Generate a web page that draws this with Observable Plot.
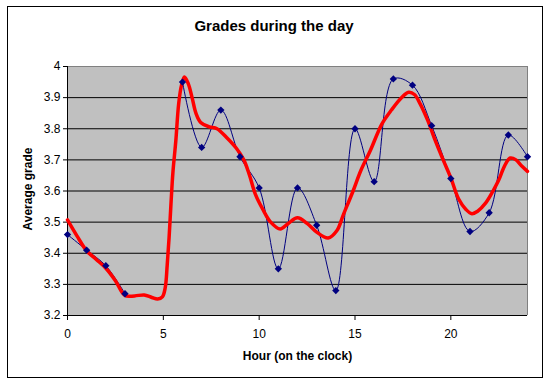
<!DOCTYPE html>
<html><head><meta charset="utf-8">
<script src="https://cdn.jsdelivr.net/npm/d3@7"></script>
<script src="https://cdn.jsdelivr.net/npm/@observablehq/plot@0.6"></script>
<style>
body{margin:0;background:#fff;}
#wrap{position:relative;width:550px;height:384px;}
#border{position:absolute;left:7px;top:6px;width:534px;height:370px;border:1px solid #000;pointer-events:none;}
</style></head><body><div id="wrap"><div id="border"></div></div>
<script>
// Hourly average grades (blue diamonds); no data at 4 and 5
const hours = [0,1,2,3,4,5,6,7,8,9,10,11,12,13,14,15,16,17,18,19,20,21,22,23,24];
const avgGrade = [3.46,3.41,3.36,3.27,null,null,3.95,3.74,3.86,3.71,3.61,3.35,3.61,3.49,3.28,3.80,3.63,3.96,3.94,3.81,3.64,3.47,3.53,3.78,3.71];

// Smoothed trend (red)
const trendHours = [0,0.5,1,1.5,2,2.5,3,3.5,4,4.4,4.7,4.95,5.1,5.2,5.3,5.4,5.5,5.65,5.8,5.95,6.1,6.3,6.5,6.7,6.95,7.4,7.8,8.3,8.8,9.2,9.5,9.8,10.2,10.6,11.1,11.5,12,12.5,13,13.6,14.05,14.4,14.9,15.3,15.8,16.4,16.9,17.4,17.8,18.1,18.4,18.8,19.2,19.6,20,20.4,20.8,21.1,21.4,21.8,22.2,22.5,22.8,23.1,23.4,23.7,24];
const trendGrade = [3.507,3.455,3.408,3.38,3.352,3.312,3.264,3.263,3.266,3.258,3.253,3.26,3.29,3.36,3.45,3.56,3.66,3.76,3.88,3.94,3.966,3.945,3.9,3.85,3.82,3.806,3.80,3.772,3.738,3.70,3.65,3.59,3.54,3.50,3.478,3.495,3.514,3.496,3.468,3.449,3.472,3.525,3.60,3.665,3.73,3.815,3.86,3.898,3.917,3.91,3.88,3.826,3.76,3.70,3.642,3.575,3.54,3.527,3.535,3.56,3.60,3.635,3.68,3.706,3.70,3.68,3.663];

const yTicks = [3.2,3.3,3.4,3.5,3.6,3.7,3.8,3.9,4];
const gridLines = [3.3,3.4,3.5,3.6,3.7,3.8,3.9];
const xTicks = [0,5,10,15,20];

const titleText = "Grades during the day";
const xTitle = "Hour (on the clock)";
const yTitle = "Average grade";

const blue = hours.map((h,i) => ({h, g: avgGrade[i]}));
const red = trendHours.map((h,i) => ({h, g: trendGrade[i]}));

const chart = Plot.plot({
  width: 550, height: 384,
  marginLeft: 67, marginRight: 23, marginTop: 66, marginBottom: 69,
  style: {fontFamily: "'Liberation Sans', Arial, sans-serif", fontSize: "12px", color: "#000", background: "transparent", overflow: "visible"},
  x: {domain: [0, 24]},
  y: {domain: [3.2, 4]},
  marks: [
    Plot.frame({fill: "#C0C0C0", stroke: "none"}),
    Plot.ruleY(gridLines, {stroke: "#000", strokeWidth: 1}),
    Plot.ruleY([4], {stroke: "#808080", strokeWidth: 1}),
    Plot.ruleX([24], {stroke: "#808080", strokeWidth: 1}),
    Plot.axisY({ticks: yTicks, tickSize: 4, tickPadding: 3, fontSize: 12, tickFormat: d => d === 4 ? "4" : d.toFixed(1), label: null}),
    Plot.axisX({ticks: xTicks, tickSize: 5, tickPadding: 9, fontSize: 12, tickFormat: d => String(d), label: null}),
    Plot.ruleX([0], {stroke: "#000"}),
    Plot.ruleY([3.2], {stroke: "#000"}),
    Plot.line(blue, {x: "h", y: "g", curve: "catmull-rom", stroke: "#000080", strokeWidth: 1}),
    Plot.line(red, {x: "h", y: "g", curve: "catmull-rom", stroke: "#FF0000", strokeWidth: 3.5}),
    Plot.dot(blue.filter(d => d.g != null), {x: "h", y: "g", symbol: "diamond2", r: 3.3, fill: "#000080", stroke: "none"}),
    Plot.text([titleText], {frameAnchor: "top", textAnchor: "middle", lineAnchor: "middle", dx: -23.5, dy: -40, fontWeight: "bold", fontSize: 15}),
    Plot.text([xTitle], {frameAnchor: "bottom", textAnchor: "middle", lineAnchor: "middle", dy: 41, fontWeight: "bold", fontSize: 12}),
    Plot.text([yTitle], {frameAnchor: "left", textAnchor: "middle", lineAnchor: "middle", dx: -39.5, dy: -2, rotate: -90, fontWeight: "bold", fontSize: 12})
  ]
});
document.getElementById("wrap").prepend(chart);
</script>
</body></html>
